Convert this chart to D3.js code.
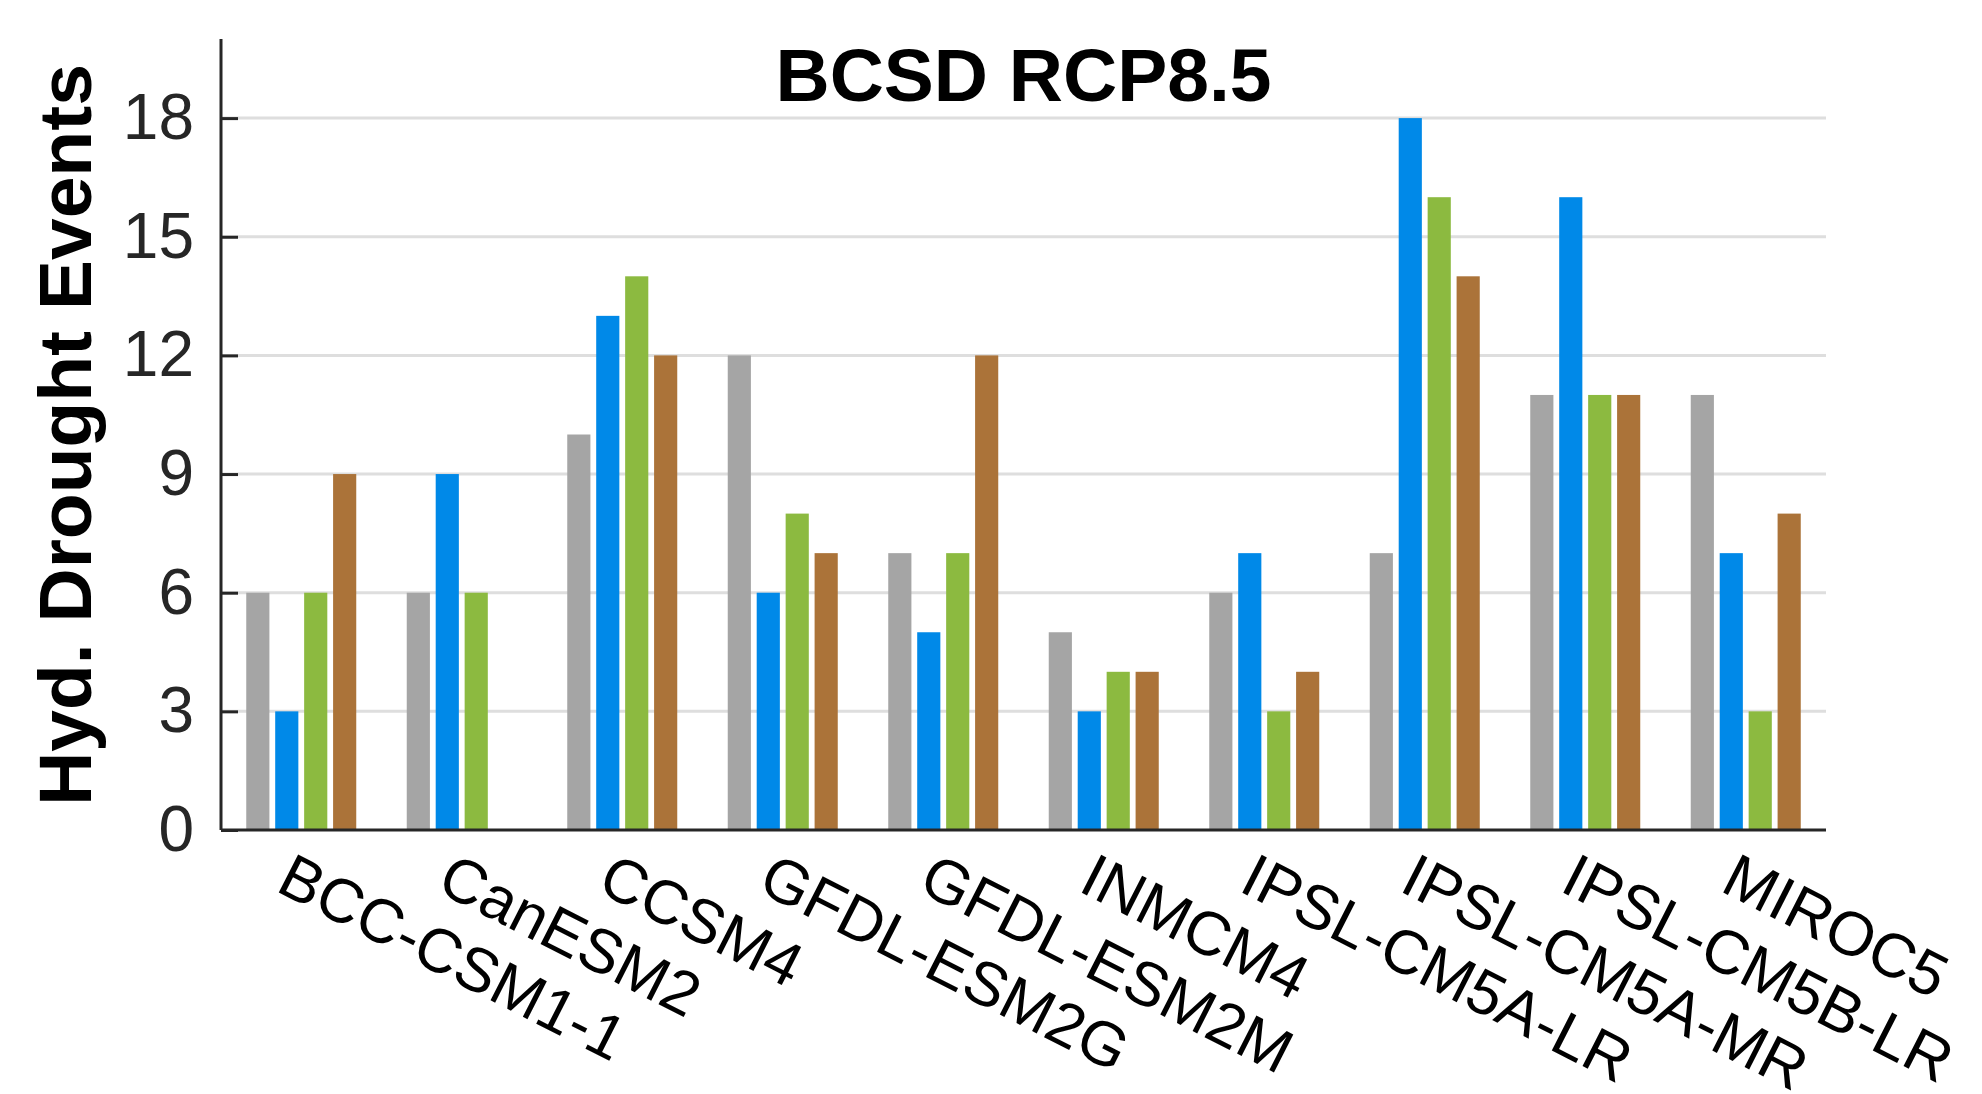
<!DOCTYPE html>
<html>
<head>
<meta charset="utf-8">
<script src="https://cdn.jsdelivr.net/npm/d3@7"></script>
<style>
  html, body { margin: 0; padding: 0; background: #fff; }
  svg { display: block; }
  text { font-family: "Liberation Sans", Arial, Helvetica, sans-serif; }
</style>
</head>
<body>
<svg id="chart" width="1982" height="1094"></svg>
<script>
// ---- Data ----
const categories = ["BCC-CSM1-1", "CanESM2", "CCSM4", "GFDL-ESM2G", "GFDL-ESM2M",
                    "INMCM4", "IPSL-CM5A-LR", "IPSL-CM5A-MR", "IPSL-CM5B-LR", "MIROC5"];
const seriesNames = ["S1", "S2", "S3", "S4"];
const series1 = [6, 6, 10, 12, 7, 5, 6, 7, 11, 11];
const series2 = [3, 9, 13, 6, 5, 3, 7, 18, 16, 7];
const series3 = [6, 6, 14, 8, 7, 4, 3, 16, 11, 3];
const series4 = [9, 0, 12, 7, 12, 4, 4, 14, 11, 8];
const yTicks = [0, 3, 6, 9, 12, 15, 18];
const colors = ["#a5a5a5", "#0089e8", "#8cba40", "#ab7339"];
const titleText = "BCSD RCP8.5";
const yLabel = "Hyd. Drought Events";

const allSeries = [series1, series2, series3, series4];

// ---- Layout ----
const mLeft = 221, mRight = 1826, mBottom = 830, mTop = 39;
const svg = d3.select("#chart");

const x = d3.scaleBand().domain(categories).range([mLeft, mRight]).padding(0);
const bw = x.bandwidth();
const xi = d3.scaleBand().domain(seriesNames)
  .range([bw / 2 - 55, bw / 2 + 55]).paddingInner(0.2).paddingOuter(0);
const y = d3.scaleLinear().domain([0, 20]).range([mBottom, mTop]);

// gridlines
svg.append("g").selectAll("line")
  .data(yTicks.filter(d => d > 0))
  .join("line")
  .attr("x1", mLeft).attr("x2", mRight)
  .attr("y1", d => y(d)).attr("y2", d => y(d))
  .attr("stroke", "#dedede").attr("stroke-width", 3);

// bars
const rows = [];
categories.forEach((c, i) => {
  seriesNames.forEach((s, j) => rows.push({ c, s, j, v: allSeries[j][i] }));
});
svg.append("g").selectAll("rect")
  .data(rows)
  .join("rect")
  .attr("x", d => x(d.c) + xi(d.s))
  .attr("width", xi.bandwidth())
  .attr("y", d => y(d.v))
  .attr("height", d => y(0) - y(d.v))
  .attr("fill", d => colors[d.j]);

// y axis
const yAxis = d3.axisLeft(y).tickValues(yTicks).tickSize(-17).tickPadding(27).tickFormat(d3.format("d"));
const gy = svg.append("g").attr("transform", `translate(${mLeft},0)`).call(yAxis);
gy.select(".domain").attr("stroke", "#262626").attr("stroke-width", 3)
  .attr("d", `M0,${mTop}V${mBottom}`);
gy.selectAll(".tick line").attr("stroke", "#262626").attr("stroke-width", 3);
gy.selectAll(".tick text").attr("font-size", 64).attr("fill", "#262626")
  .attr("font-family", "Liberation Sans, Arial, sans-serif");

// x axis
const xAxis = d3.axisBottom(x).tickSize(0).tickFormat("");
const gx = svg.append("g").attr("transform", `translate(0,${mBottom})`).call(xAxis);
gx.select(".domain").attr("stroke", "#262626").attr("stroke-width", 3)
  .attr("d", `M${mLeft},0H${mRight}`);

// x tick labels (rotated)
svg.append("g").selectAll("text")
  .data(categories)
  .join("text")
  .attr("transform", d => `translate(${x(d) + bw / 2 - 7},${mBottom + 21}) rotate(27)`)
  .attr("y", 44)
  .attr("text-anchor", "start")
  .attr("font-size", 62)
  .attr("fill", "#000")
  .text(d => d);

// title
svg.append("text")
  .attr("x", (mLeft + mRight) / 2).attr("y", 101)
  .attr("text-anchor", "middle")
  .attr("font-size", 75).attr("font-weight", "bold").attr("fill", "#000")
  .text(titleText);

// y label
svg.append("text")
  .attr("transform", `translate(91,435) rotate(-90)`)
  .attr("text-anchor", "middle")
  .attr("font-size", 75).attr("font-weight", "bold").attr("fill", "#000")
  .text(yLabel);
</script>
</body>
</html>
